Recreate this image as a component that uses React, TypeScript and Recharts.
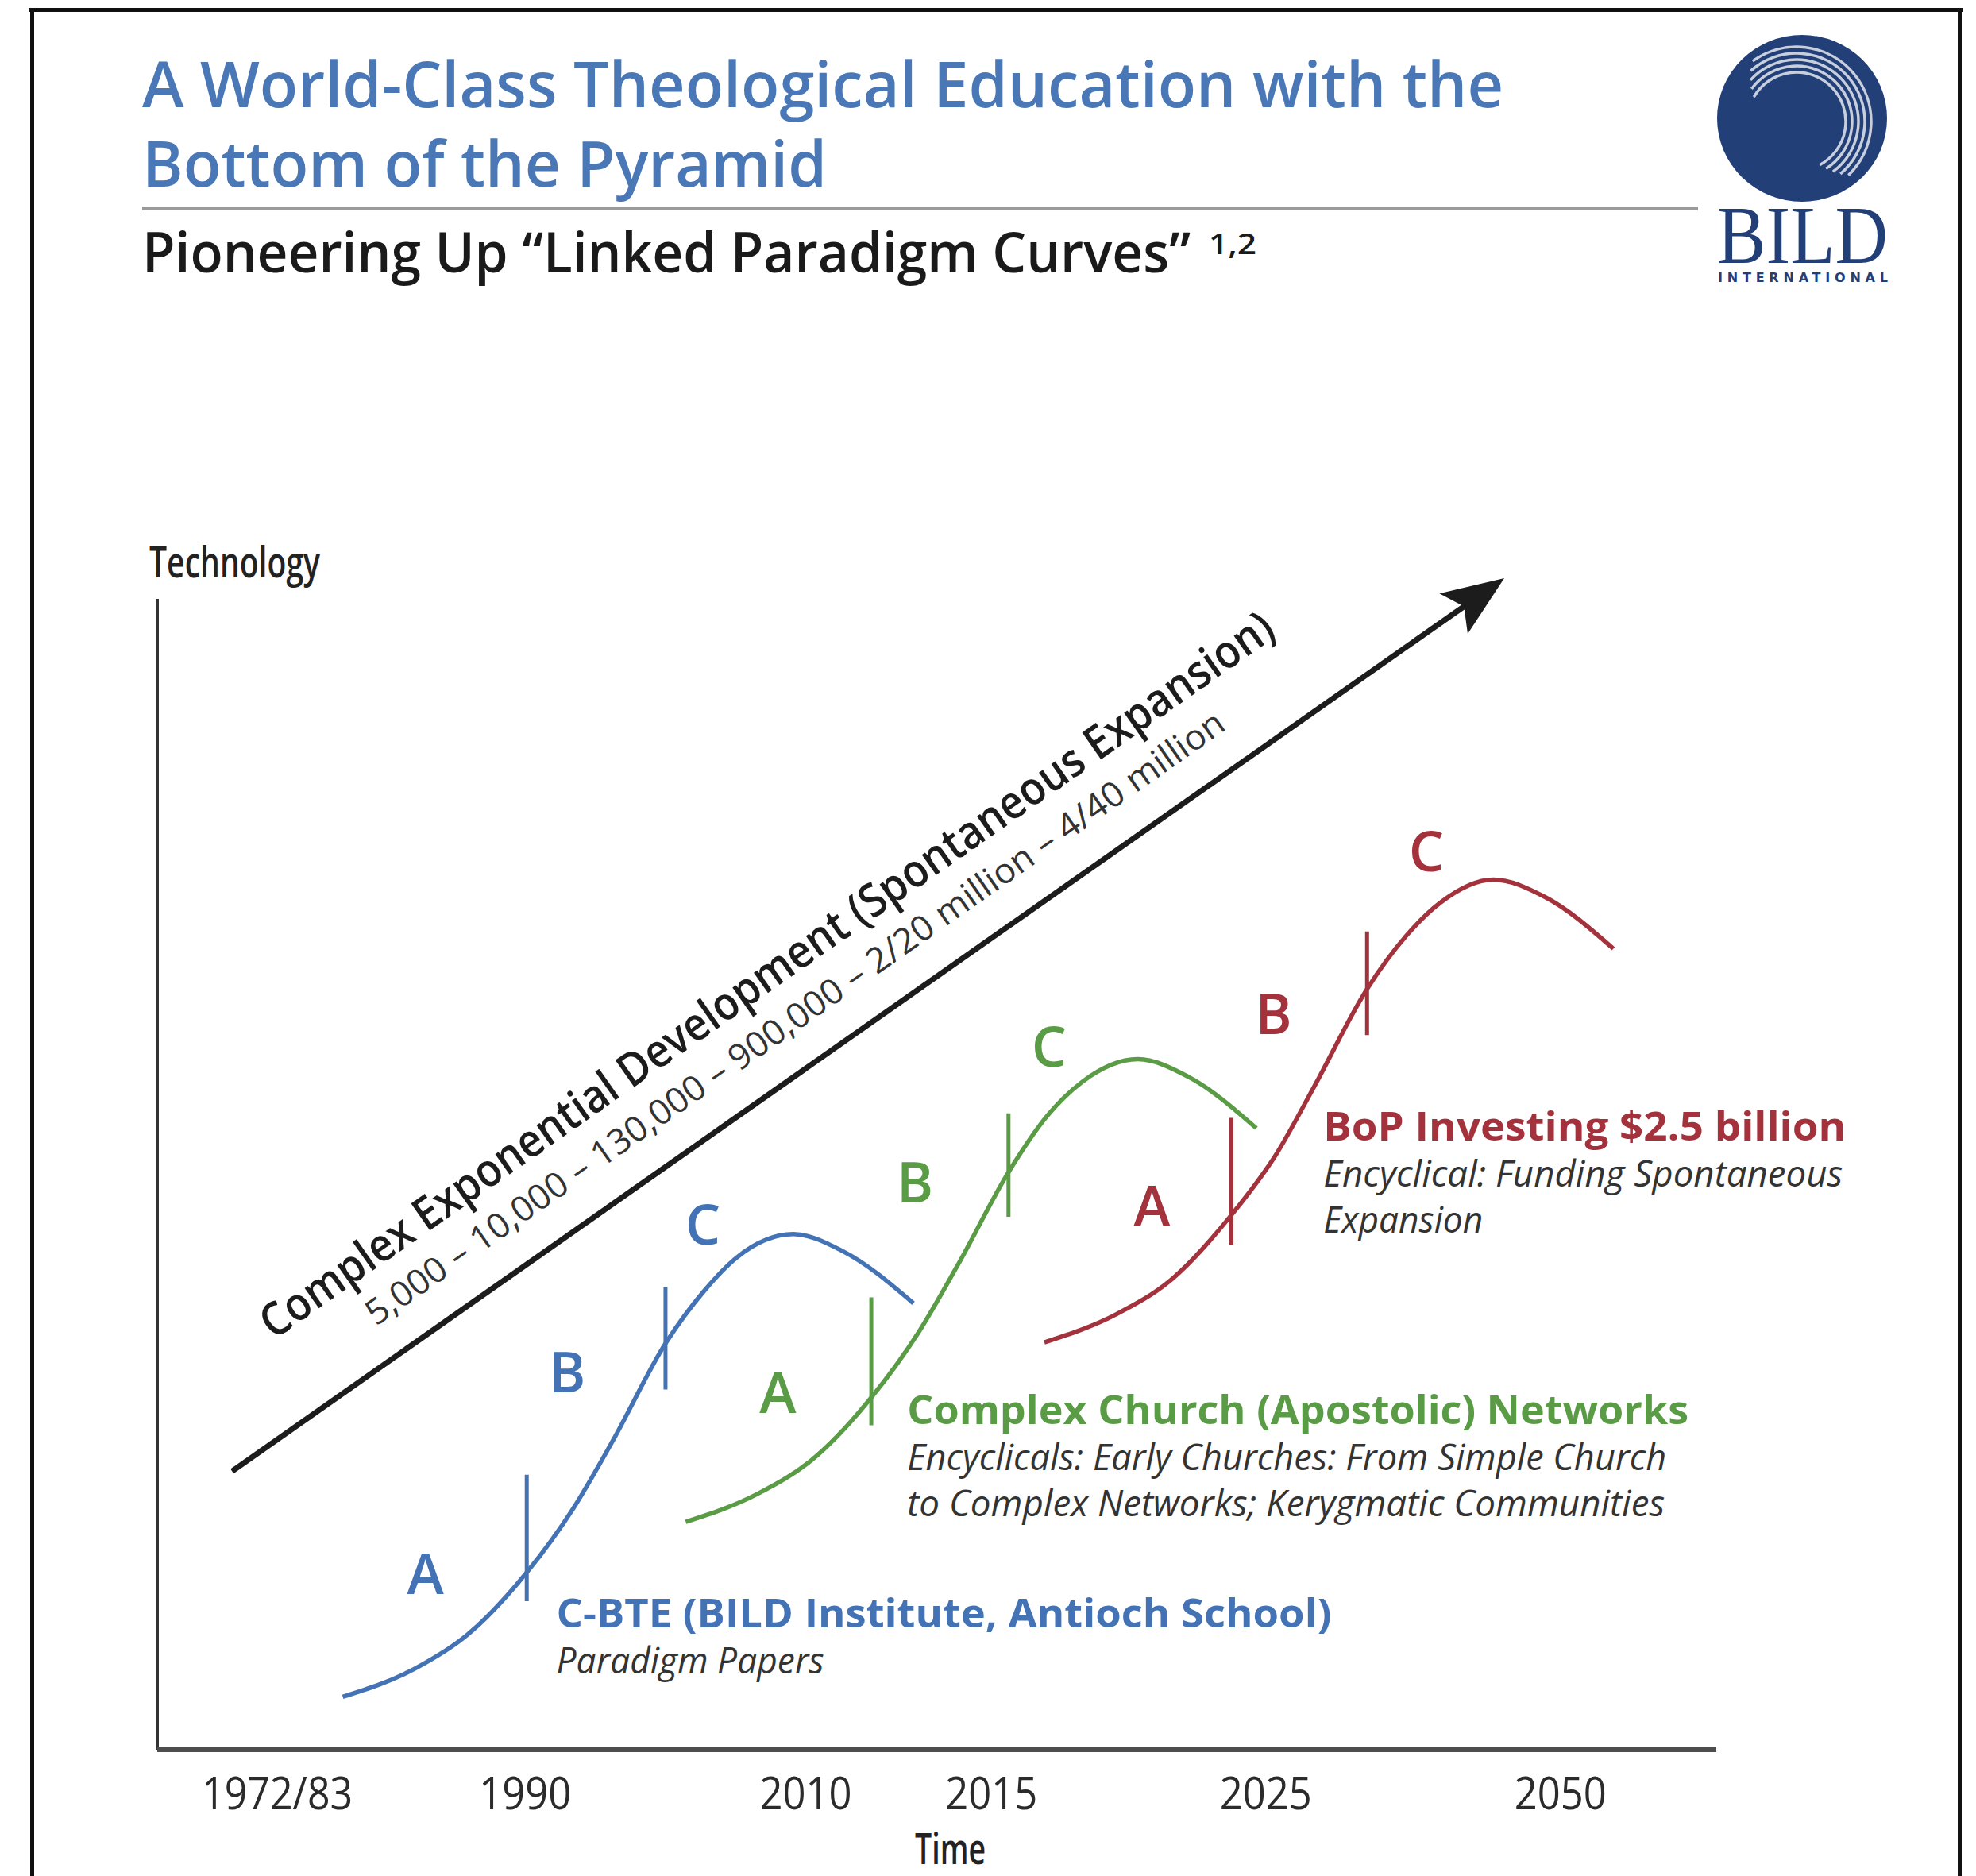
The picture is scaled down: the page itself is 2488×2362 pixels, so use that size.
import React from "react";
import {
  LineChart,
  Line,
  XAxis,
  YAxis,
  ReferenceLine,
  ReferenceDot,
} from "recharts";

// page / chart size
const W = 2488;
const H = 2362;

const FONT = "'Open Sans', 'Noto Sans', sans-serif";
const BLUE = "#4473b5";
const GREEN = "#5a9b45";
const RED = "#a3323d";
const INK = "#1c1c1c";

// x axis: time position (0-100), y axis: technology level (0-100)
const timeTicks = [7.7, 23.6, 41.6, 53.5, 71.1, 90.0];
const timeLabels = ["1972/83", "1990", "2010", "2015", "2025", "2050"];

// paradigm curves [time, technology]
const cbteCurve = [
  [11.9, 4.6], [16.6, 7.1], [19.9, 10.0], [23.7, 15.4], [26.7, 21.0], [29.2, 26.8],
  [32.6, 35.3], [35.1, 39.9], [37.2, 42.8], [40.8, 44.8], [44.0, 43.3], [48.5, 38.8],
];
const churchCurve = [
  [33.9, 19.8], [38.6, 22.3], [42.0, 25.2], [45.8, 30.6], [48.8, 36.2], [51.3, 42.0],
  [54.7, 50.4], [57.1, 55.1], [59.3, 58.0], [62.9, 60.0], [66.1, 58.5], [70.5, 54.0],
];
const bopCurve = [
  [56.9, 35.4], [61.6, 37.9], [65.0, 40.8], [68.8, 46.3], [71.8, 51.8], [74.2, 57.6],
  [77.6, 66.1], [80.1, 70.7], [82.3, 73.6], [85.7, 75.6], [89.0, 74.1], [93.4, 69.6],
];

// phase marks [time, from, to]
const cbteMarks = [[23.7, 12.9, 23.9], [32.6, 31.3, 40.2]];
const churchMarks = [[45.8, 28.2, 39.3], [54.6, 46.3, 55.3]];
const bopMarks = [[68.9, 43.9, 54.9], [77.6, 62.1, 71.1]];

// phase letters [letter, time, technology]
const cbteLetters = [["A", 17.2, 15.3], ["B", 26.3, 32.8], ["C", 35.0, 45.6]];
const churchLetters = [["A", 39.8, 31.0], ["B", 48.6, 49.3], ["C", 57.2, 61.1]];
const bopLetters = [["A", 63.8, 47.2], ["B", 71.6, 63.9], ["C", 81.4, 78.1]];

// big trend arrow [time, technology]
const trendArrow = [[4.8, 24.2], [86.4, 101.8]];
const trendTitle = "Complex Exponential Development (Spontaneous Expansion)";
const trendScale = "5,000 – 10,000 – 130,000 – 900,000 – 2/20 million – 4/40 million";

// curve notes: title then italic lines
const cbteNote = ["C-BTE (BILD Institute, Antioch School)", "Paradigm Papers"];
const churchNote = [
  "Complex Church (Apostolic) Networks",
  "Encyclicals: Early Churches: From Simple Church",
  "to Complex Networks; Kerygmatic Communities",
];
const bopNote = ["BoP Investing $2.5 billion", "Encyclical: Funding Spontaneous", "Expansion"];

const toPoints = (arr: number[][]) => arr.map(([t, v]) => ({ t, v }));

const TimeTick = (p: any) => {
  const i = timeTicks.indexOf(p.payload.value);
  const label = i >= 0 ? timeLabels[i] : String(p.payload.value);
  return (
    <text
      x={p.x}
      y={p.y + 75}
      textAnchor="middle"
      fontFamily={FONT}
      fontSize={57}
      fill="#2b2b2b"
      textLength={label.length > 4 ? 190 : 116}
      lengthAdjust="spacingAndGlyphs"
    >
      {label}
    </text>
  );
};

const ArrowShape = (p: any) => {
  const { x1, y1, x2, y2 } = p;
  const dx = x2 - x1;
  const dy = y2 - y1;
  const len = Math.hypot(dx, dy);
  const ux = dx / len;
  const uy = dy / len;
  const nx = uy;
  const ny = -ux;
  const at = (s: number, o: number) => [x1 + ux * s + nx * o, y1 + uy * s + ny * o];
  const head = [at(len, 0), at(len - 78, 31), at(len - 62, 0), at(len - 78, -31)];
  const end = at(len - 55, 0);
  const angle = (Math.atan2(dy, dx) * 180) / Math.PI;
  const [t1x, t1y] = at(910, 105);
  const [t2x, t2y] = at(908, 45);
  return (
    <g>
      <line x1={x1} y1={y1} x2={end[0]} y2={end[1]} stroke={INK} strokeWidth={7} />
      <polygon points={head.map((q) => q.join(",")).join(" ")} fill={INK} />
      <text
        x={t1x}
        y={t1y}
        transform={`rotate(${angle} ${t1x} ${t1y})`}
        textAnchor="middle"
        fontFamily={FONT}
        fontSize={58}
        fontWeight={600}
        fill={INK}
        textLength={1545}
        lengthAdjust="spacingAndGlyphs"
      >
        {trendTitle}
      </text>
      <text
        x={t2x}
        y={t2y}
        transform={`rotate(${angle} ${t2x} ${t2y})`}
        textAnchor="middle"
        fontFamily={FONT}
        fontSize={44}
        fill="#333"
        textLength={1310}
        lengthAdjust="spacingAndGlyphs"
      >
        {trendScale}
      </text>
    </g>
  );
};

const letterShape = (letter: string, color: string) => (p: any) => (
  <text
    x={p.cx}
    y={p.cy}
    dy="0.36em"
    textAnchor="middle"
    fontFamily={FONT}
    fontSize={70}
    fontWeight={600}
    fill={color}
  >
    {letter}
  </text>
);

const noteShape = (lines: string[], widths: number[], color: string) => (p: any) => (
  <g fontFamily={FONT}>
    {lines.map((s, i) => (
      <text
        key={i}
        x={p.cx}
        y={p.cy + i * 58}
        fontSize={i === 0 ? 50 : 45}
        fontWeight={i === 0 ? 700 : 400}
        fontStyle={i === 0 ? "normal" : "italic"}
        fill={i === 0 ? color : "#333"}
        textLength={widths[i]}
        lengthAdjust="spacingAndGlyphs"
      >
        {s}
      </text>
    ))}
  </g>
);

const series = [
  { curve: cbteCurve, marks: cbteMarks, letters: cbteLetters, color: BLUE },
  { curve: churchCurve, marks: churchMarks, letters: churchLetters, color: GREEN },
  { curve: bopCurve, marks: bopMarks, letters: bopLetters, color: RED },
];

const arcPath = (cx: number, cy: number, r: number, a0: number, a1: number) => {
  const r0 = (a0 * Math.PI) / 180;
  const r1 = (a1 * Math.PI) / 180;
  const large = a1 - a0 > 180 ? 1 : 0;
  return `M ${cx + r * Math.cos(r0)} ${cy + r * Math.sin(r0)} A ${r} ${r} 0 ${large} 1 ${
    cx + r * Math.cos(r1)
  } ${cy + r * Math.sin(r1)}`;
};

function Header() {
  return (
    <svg
      width={W}
      height={H}
      style={{ position: "absolute", left: 0, top: 0, pointerEvents: "none" }}
    >
      {/* frame */}
      <rect x={36} y={10} width={2436} height={5} fill="#111" />
      <rect x={38} y={10} width={5} height={H} fill="#111" />
      <rect x={2465} y={10} width={5} height={H} fill="#111" />

      <g fontFamily={FONT} fontWeight={600}>
        <text x={179} y={135} fontSize={80} fill="#4a78b6" textLength={1714} lengthAdjust="spacingAndGlyphs">
          A World-Class Theological Education with the
        </text>
        <text x={179} y={235} fontSize={80} fill="#4a78b6" textLength={862} lengthAdjust="spacingAndGlyphs">
          Bottom of the Pyramid
        </text>
        <rect x={179} y={260} width={1959} height={5} fill="#9b9b9b" />
        <text fill="#1a1a1a">
          <tspan x={179} y={343} fontSize={70} textLength={1320} lengthAdjust="spacingAndGlyphs">
            Pioneering Up “Linked Paradigm Curves”
          </tspan>
          <tspan x={1522} y={320} fontSize={36} textLength={60} lengthAdjust="spacingAndGlyphs">
            1,2
          </tspan>
        </text>
        <text x={188} y={727} fontSize={55} fill="#222" textLength={215} lengthAdjust="spacingAndGlyphs">
          Technology
        </text>
        <text x={1152} y={2347} fontSize={55} fill="#222" textLength={89} lengthAdjust="spacingAndGlyphs">
          Time
        </text>
      </g>

      {/* logo */}
      <ellipse cx={2269} cy={149} rx={107} ry={105} fill="#233f78" />
      {[62, 70, 78, 86, 94].map((r, i) => (
        <path
          key={r}
          d={arcPath(2262, 153, r, -150 + i * 6, 62 - i * 4)}
          fill="none"
          stroke="#ffffff"
          strokeOpacity={0.75}
          strokeWidth={3.5}
        />
      ))}
      <text fill="#233f78">
        <tspan
          x={2162}
          y={331}
          fontFamily="'Liberation Serif', 'DejaVu Serif', serif"
          fontSize={104}
          textLength={215}
          lengthAdjust="spacingAndGlyphs"
        >
          BILD
        </tspan>
        <tspan
          x={2163}
          y={355}
          fontFamily="'DejaVu Sans', sans-serif"
          fontWeight={700}
          fontSize={16}
          textLength={214}
          lengthAdjust="spacing"
        >
          INTERNATIONAL
        </tspan>
      </text>
    </svg>
  );
}

export default function App() {
  return (
    <div style={{ position: "absolute", left: 0, top: 0, width: W, height: H, background: "#fff" }}>
      <LineChart
        width={W}
        height={H}
        margin={{ top: 754, right: 327, bottom: 59, left: 198 }}
      >
        <XAxis
          type="number"
          dataKey="t"
          domain={[0, 100]}
          ticks={timeTicks}
          interval={0}
          tick={<TimeTick />}
          tickLine={false}
          tickSize={0}
          tickMargin={0}
          height={100}
          axisLine={{ stroke: "#4d4d4d", strokeWidth: 6 }}
        />
        <YAxis
          type="number"
          domain={[0, 100]}
          width={0}
          tick={false}
          tickLine={false}
          axisLine={false}
        />
        {/* vertical technology axis */}
        <ReferenceLine x={0} stroke="#333" strokeWidth={4} />

        <ReferenceLine
          segment={trendArrow.map(([x, y]) => ({ x, y }))}
          ifOverflow="visible"
          shape={ArrowShape}
        />

        {series.map((s, si) => (
          <Line
            key={`curve-${si}`}
            data={toPoints(s.curve)}
            dataKey="v"
            type="monotone"
            stroke={s.color}
            strokeWidth={5.5}
            dot={false}
            activeDot={false}
            isAnimationActive={false}
          />
        ))}

        {series.map((s, si) =>
          s.marks.map(([x, a, b], mi) => (
            <ReferenceLine
              key={`mark-${si}-${mi}`}
              segment={[{ x, y: a }, { x, y: b }]}
              stroke={s.color}
              strokeWidth={5}
            />
          ))
        )}

        {series.map((s, si) =>
          s.letters.map(([l, x, y], li) => (
            <ReferenceDot
              key={`letter-${si}-${li}`}
              x={x as number}
              y={y as number}
              r={1}
              shape={letterShape(l as string, s.color)}
            />
          ))
        )}

        <ReferenceDot x={25.6} y={10.6} r={1} shape={noteShape(cbteNote, [976, 337], BLUE)} />
        <ReferenceDot x={48.1} y={28.3} r={1} shape={noteShape(churchNote, [984, 956, 954], GREEN)} />
        <ReferenceDot x={74.8} y={52.9} r={1} shape={noteShape(bopNote, [658, 654, 201], RED)} />
      </LineChart>
      <Header />
    </div>
  );
}
